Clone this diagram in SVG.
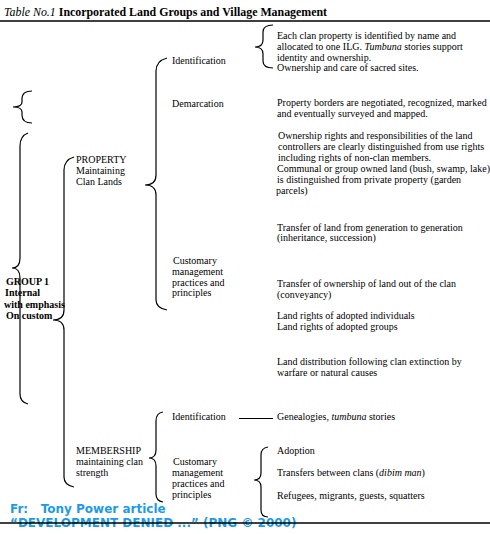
<svg xmlns="http://www.w3.org/2000/svg" width="490" height="534" viewBox="0 0 490 534">
<style>
text{font-family:"Liberation Serif","Times New Roman",serif;font-size:10px;fill:#000}
.title{font-size:11.9px}
.b{font-weight:bold}
.i{font-style:italic}
.brace{fill:none;stroke:#000;stroke-width:1.2}
.rule{stroke:#000;stroke-width:1.6}
.foot{font-family:"DejaVu Sans",Verdana,sans-serif;font-weight:bold;font-size:12px;fill:#1c9be6}
</style>
<rect width="490" height="534" fill="#fff"/>
<g id="title">
<text class="title" x="4" y="16"><tspan class="i">Table No.1</tspan> <tspan class="b">Incorporated Land Groups and Village Management</tspan></text>
<line class="rule" x1="0" y1="21" x2="490" y2="21"/>
</g>
<g id="connectors">
<path class="brace" d="M32,91 Q22,91 22,99 L22,102 Q22,107 13,107 Q22,107 22,112 L22,115 Q22,123 32,123"/>
<path class="brace" d="M28,133 Q20,136 20,146 L20,258 Q20,268 12,268 Q20,268 20,278 L20,394 Q20,402 28,404"/>
<path class="brace" d="M74,157 Q64,160 64,170 L64,310 Q64,320 53,320 Q64,320 64,330 L64,477 Q64,485 74,487"/>
<path class="brace" d="M167,58 Q156,61 156,71 L156,175 Q156,185 145,185 Q156,185 156,195 L156,300 Q156,308 167,310"/>
<path class="brace" d="M163,412 Q156,413 156,421 L156,450 Q156,458 149,458 Q156,458 156,466 L156,494 Q156,501 163,502"/>
<path class="brace" d="M273,25 Q263,25 263,32 L263,40 Q263,47 255,47 Q263,47 263,54 L263,61 Q263,68 273,68"/>
<path class="brace" d="M268,447 Q261,448 261,455 L261,473 Q261,480 254,480 Q261,480 261,487 L261,510 Q261,517 268,517"/>
<line class="brace" x1="239" y1="418.5" x2="273" y2="418.5"/>
</g>
<g id="group1">
<text class="b" x="6" y="285">GROUP 1</text>
<text class="b" x="5" y="296">Internal</text>
<text class="b" x="4" y="308">with emphasis</text>
<text class="b" x="6" y="319">On custom</text>
</g>
<g id="property">
<text x="76" y="163">PROPERTY</text>
<text x="76" y="174">Maintaining</text>
<text x="76" y="185">Clan Lands</text>
</g>
<g id="membership">
<text x="76" y="454">MEMBERSHIP</text>
<text x="76" y="465">maintaining clan</text>
<text x="76" y="476">strength</text>
</g>
<g id="prop-identification">
<text x="172" y="64">Identification</text>
</g>
<g id="prop-demarcation">
<text x="172" y="107">Demarcation</text>
</g>
<g id="prop-customary">
<text x="173" y="264">Customary</text>
<text x="172" y="275">management</text>
<text x="172" y="286">practices and</text>
<text x="172" y="296">principles</text>
</g>
<g id="mem-identification">
<text x="172" y="420">Identification</text>
</g>
<g id="mem-customary">
<text x="173" y="465">Customary</text>
<text x="172" y="476">management</text>
<text x="172" y="487">practices and</text>
<text x="172" y="498">principles</text>
</g>
<g id="ident-details">
<text x="277" y="39">Each clan property is identified by name and</text>
<text x="277" y="50">allocated to one ILG. <tspan class="i">Tumbuna</tspan> stories support</text>
<text x="277" y="60.5">identity and ownership.</text>
<text x="277" y="71">Ownership and care of sacred sites.</text>
</g>
<g id="demarcation-details">
<text x="277" y="106">Property borders are negotiated, recognized, marked</text>
<text x="277" y="117">and eventually surveyed and mapped.</text>
</g>
<g id="rights-details">
<text x="278" y="139">Ownership rights and responsibilities of the land</text>
<text x="278" y="150">controllers are clearly distinguished from use rights</text>
<text x="278" y="161">including rights of non-clan members.</text>
<text x="277" y="172">Communal or group owned land (bush, swamp, lake)</text>
<text x="277" y="183">is distinguished from private property (garden</text>
<text x="276" y="194">parcels)</text>
</g>
<g id="inheritance">
<text x="277" y="231">Transfer of land from generation to generation</text>
<text x="277" y="241">(inheritance, succession)</text>
</g>
<g id="conveyancy">
<text x="277" y="287">Transfer of ownership of land out of the clan</text>
<text x="277" y="298">(conveyancy)</text>
</g>
<g id="adopted">
<text x="277" y="319">Land rights of adopted individuals</text>
<text x="277" y="330">Land rights of adopted groups</text>
</g>
<g id="extinction">
<text x="277" y="365">Land distribution following clan extinction by</text>
<text x="277" y="376">warfare or natural causes</text>
</g>
<g id="genealogies">
<text x="277" y="420">Genealogies, <tspan class="i">tumbuna</tspan> stories</text>
</g>
<g id="mem-details">
<text x="277" y="454">Adoption</text>
<text x="277" y="476">Transfers between clans (<tspan class="i">dibim man</tspan>)</text>
<text x="277" y="499">Refugees, migrants, guests, squatters</text>
</g>
<g id="footer">
<text class="foot" x="10" y="513" xml:space="preserve">Fr:   Tony Power article</text>
<text class="foot" x="10" y="527">“DEVELOPMENT DENIED ...” (PNG © 2000)</text>
<line class="rule" x1="0" y1="523" x2="490" y2="523"/>
</g>
</svg>
